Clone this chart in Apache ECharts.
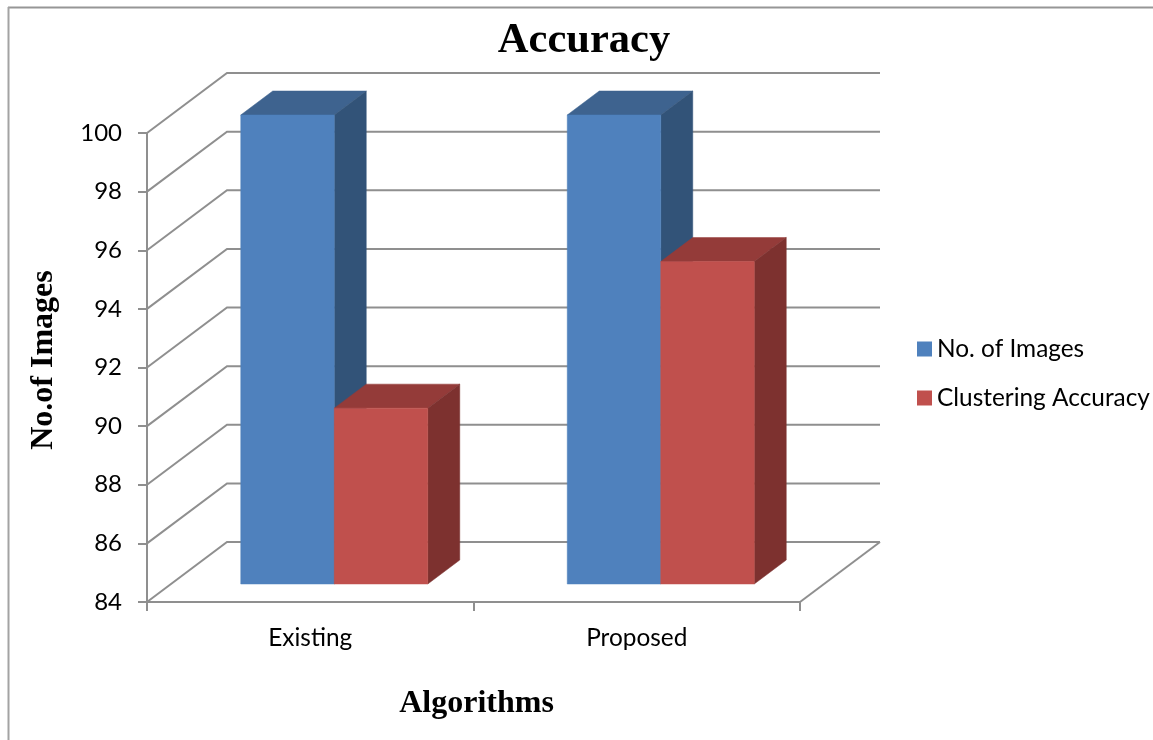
<!DOCTYPE html>
<html>
<head>
<meta charset="utf-8">
<style>html,body{margin:0;padding:0;background:#fff}#c{width:1153px;height:740px}</style>
<script src="https://cdn.jsdelivr.net/npm/echarts@6/dist/echarts.min.js"></script>
</head>
<body>
<div id="c"></div>
<script>
const categories = ['Existing', 'Proposed'];
const noOfImages = [100, 100];
const clusteringAccuracy = [90, 95];
const yTicks = [84, 86, 88, 90, 92, 94, 96, 98, 100];

// projection styling of the pseudo-3D box (pixels)
const WALL_DX = 80, WALL_DY = -60;
const BAR_SHIFT_X = 24, BAR_SHIFT_Y = -18;
const BAR_DX = 32, BAR_DY = -24;
const BAR_BAND = 93.5 / 326.5;
const LINE = '#8f8f8f';

function shade(c) { return { fill: c, stroke: c, lineWidth: 0.5 }; }

function barRenderer(seriesIdx, front, top, side) {
  return function (params, api) {
    const i = api.value(0), v = api.value(1);
    const t = api.coord([i, v]);
    const b = api.coord([i, 84]);
    const w = api.size([1, 0])[0] * BAR_BAND;
    const x0 = t[0] + BAR_SHIFT_X + (seriesIdx - 1) * w;
    const x1 = x0 + w;
    const yt = t[1] + BAR_SHIFT_Y, yb = b[1] + BAR_SHIFT_Y;
    return {
      type: 'group',
      children: [
        { type: 'polygon', shape: { points: [[x0, yt], [x1, yt], [x1 + BAR_DX, yt + BAR_DY], [x0 + BAR_DX, yt + BAR_DY]] }, style: shade(top) },
        { type: 'polygon', shape: { points: [[x1, yt], [x1 + BAR_DX, yt + BAR_DY], [x1 + BAR_DX, yb + BAR_DY], [x1, yb]] }, style: shade(side) },
        { type: 'rect', shape: { x: x0, y: yt, width: w, height: yb - yt }, style: shade(front) }
      ]
    };
  };
}

function wallRenderer(params, api) {
  const v = api.value(0);
  const half = api.size([1, 0])[0] / 2;
  const a = api.coord([0, v]);
  const z = api.coord([categories.length - 1, v]);
  const l = [a[0] - half, a[1]];
  const r = [z[0] + half, z[1]];
  const children = [{
    type: 'polyline',
    shape: { points: [l, [l[0] + WALL_DX, l[1] + WALL_DY], [r[0] + WALL_DX, r[1] + WALL_DY]] },
    style: { stroke: LINE, lineWidth: 2, fill: null }
  }];
  if (v === yTicks[0]) {
    children.push({
      type: 'line',
      shape: { x1: r[0], y1: r[1], x2: r[0] + WALL_DX, y2: r[1] + WALL_DY },
      style: { stroke: LINE, lineWidth: 2 }
    });
  }
  return { type: 'group', children };
}

const chart = echarts.init(document.getElementById('c'), null, { renderer: 'canvas' });
chart.setOption({
  animation: false,
  backgroundColor: '#ffffff',
  title: {
    text: 'Accuracy',
    left: 579,
    top: 15,
    textAlign: 'center',
    textStyle: { fontFamily: 'Liberation Serif', fontWeight: 'bold', fontSize: 42.5, color: '#000' }
  },
  legend: {
    orient: 'vertical',
    left: 912,
    top: 332,
    itemWidth: 15,
    itemHeight: 15,
    itemGap: 25,
    icon: 'rect',
    data: ['No. of Images', 'Clustering Accuracy'],
    textStyle: { fontFamily: 'Lato', fontSize: 24.4, color: '#000' }
  },
  grid: { left: 147, right: 353, top: 133, bottom: 138, containLabel: false },
  xAxis: {
    type: 'category',
    data: categories,
    boundaryGap: true,
    name: 'Algorithms',
    nameLocation: 'middle',
    nameGap: 86,
    nameTextStyle: { fontFamily: 'Liberation Serif', fontWeight: 'bold', fontSize: 32, color: '#000', padding: [0, 0, 0, 6] },
    axisLine: { show: true, lineStyle: { color: LINE, width: 2 } },
    axisTick: { show: true, alignWithLabel: false, length: 9, lineStyle: { color: LINE, width: 2 } },
    axisLabel: { fontFamily: 'Lato', fontSize: 24.4, color: '#000', margin: 24 },
    splitLine: { show: false }
  },
  yAxis: {
    type: 'value',
    min: 84,
    max: 100,
    interval: 2,
    name: 'No.of Images',
    nameLocation: 'middle',
    nameGap: 87,
    nameTextStyle: { fontFamily: 'Liberation Serif', fontWeight: 'bold', fontSize: 32, color: '#000', padding: [0, 0, 0, 15] },
    axisLine: { show: true, lineStyle: { color: LINE, width: 2 } },
    axisTick: { show: true, length: 9, lineStyle: { color: LINE, width: 2 } },
    axisLabel: { fontFamily: 'Lato', fontSize: 24, color: '#000', margin: 25, padding: [6, 0, 0, 0] },
    splitLine: { show: false }
  },
  graphic: [
    { type: 'line', z: 0, shape: { x1: 8, y1: 7.5, x2: 1153, y2: 7.5 }, style: { stroke: '#969696', lineWidth: 2 } },
    { type: 'line', z: 0, shape: { x1: 8.5, y1: 7, x2: 8.5, y2: 740 }, style: { stroke: '#a3a3a3', lineWidth: 2 } }
  ],
  series: [
    {
      type: 'custom',
      name: 'walls',
      silent: true,
      clip: false,
      z: 1,
      data: yTicks.map(v => [v]),
      encode: { y: 0 },
      renderItem: wallRenderer
    },
    {
      type: 'custom',
      name: 'No. of Images',
      clip: false,
      z: 3,
      itemStyle: { color: '#4F81BD' },
      data: noOfImages.map((v, i) => [i, v]),
      encode: { x: 0, y: 1 },
      renderItem: barRenderer(0, '#4F81BD', '#3E638F', '#325378')
    },
    {
      type: 'custom',
      name: 'Clustering Accuracy',
      clip: false,
      z: 4,
      itemStyle: { color: '#C0504D' },
      data: clusteringAccuracy.map((v, i) => [i, v]),
      encode: { x: 0, y: 1 },
      renderItem: barRenderer(1, '#C0504D', '#943B39', '#7D312F')
    }
  ]
});
</script>
</body>
</html>
